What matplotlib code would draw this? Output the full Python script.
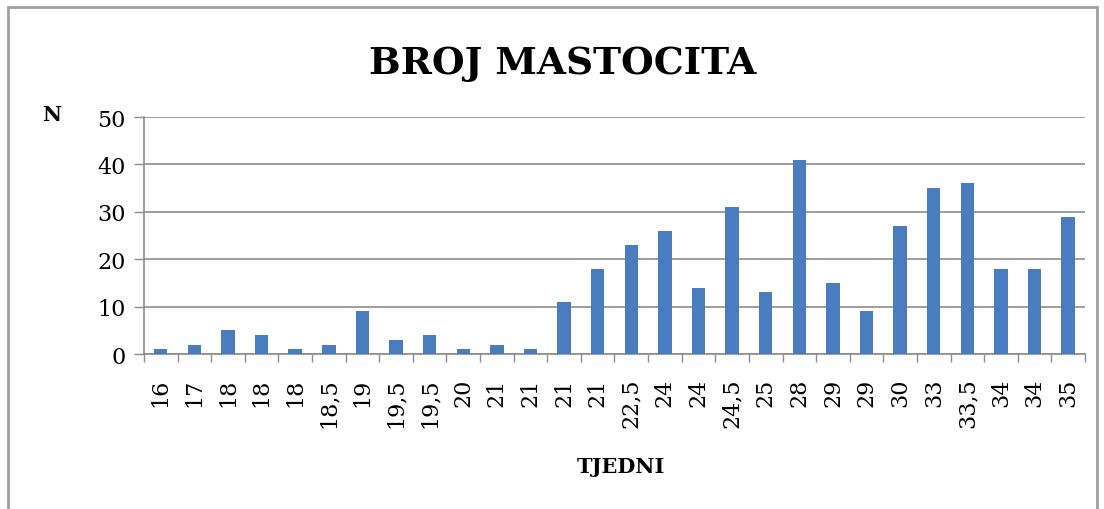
import numpy as np
import matplotlib
matplotlib.use("Agg")
import matplotlib.pyplot as plt
from matplotlib import patches

# Weeks of gestation (category labels) and mast cell counts
weeks = ["16", "17", "18", "18", "18", "18,5", "19", "19,5", "19,5", "20",
         "21", "21", "21", "21", "22,5", "24", "24", "24,5", "25", "28",
         "29", "29", "30", "33", "33,5", "34", "34", "35"]
counts = [1, 2, 5, 4, 1, 2, 9, 3, 4, 1,
          2, 1, 11, 18, 23, 26, 14, 31, 13, 41,
          15, 9, 27, 35, 36, 18, 18, 29]
y_ticks = [0, 10, 20, 30, 40, 50]

BAR_COLOR = "#4a7dbf"
GRID_COLOR = "#8c8c8c"
SERIF = "DejaVu Serif"

fig = plt.figure(figsize=(11.04, 5.10), dpi=100)
ax = fig.add_axes([0.1304, 0.3039, 0.8524, 0.4647])

x = np.arange(len(counts))
ax.bar(x, counts, width=0.4, color=BAR_COLOR, zorder=3)

ax.set_xlim(-0.5, len(counts) - 0.5)
ax.set_ylim(0, 50)
ax.set_yticks(y_ticks)
ax.set_yticklabels([str(v) for v in y_ticks], fontsize=16, family=SERIF)
ax.yaxis.grid(True, color=GRID_COLOR, linewidth=1.2, zorder=0)

# category labels under bars, tick marks on category boundaries
ax.set_xticks(x)
ax.set_xticklabels(weeks, rotation=90, fontsize=16, family=SERIF)
ax.tick_params(axis="x", which="major", length=0, pad=17)
ax.set_xticks(np.arange(len(counts) + 1) - 0.5, minor=True)
ax.tick_params(axis="x", which="minor", length=6, color=GRID_COLOR, width=1)
ax.tick_params(axis="y", length=7, color=GRID_COLOR, width=1, pad=6)

for side in ["top", "right"]:
    ax.spines[side].set_visible(False)
ax.spines["left"].set_color(GRID_COLOR)
ax.spines["bottom"].set_color(GRID_COLOR)
ax.spines["left"].set_linewidth(1.2)
ax.spines["bottom"].set_linewidth(1.2)

fig.text(0.510, 0.876, "BROJ MASTOCITA", ha="center", va="center",
         fontsize=27, fontweight="bold", family=SERIF)
fig.text(0.047, 0.775, "N", ha="center", va="center",
         fontsize=15, fontweight="bold", family=SERIF)
fig.text(0.562, 0.084, "TJEDNI", ha="center", va="center",
         fontsize=15, fontweight="bold", family=SERIF)

# outer chart frame
frame = patches.Rectangle((8 / 1104, -0.05), 1089 / 1104, 0.05 + 1 - 8 / 510,
                          transform=fig.transFigure, fill=False,
                          edgecolor="#a0a0a0", linewidth=2)
fig.patches.append(frame)

fig.savefig("out.png", dpi=100)
